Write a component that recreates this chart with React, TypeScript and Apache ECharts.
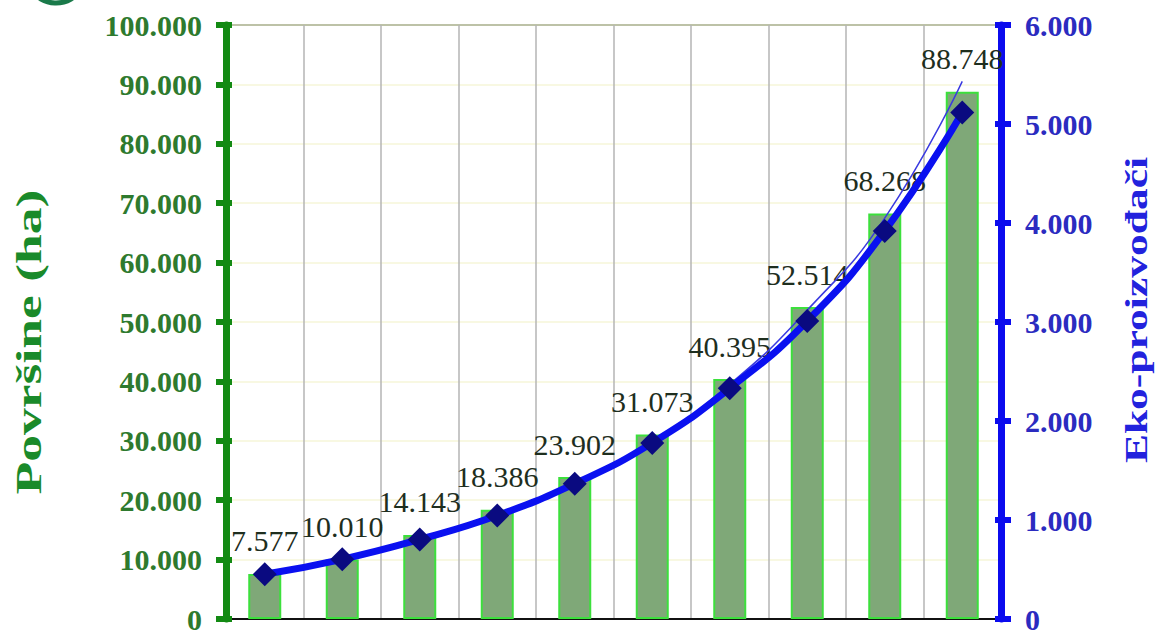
import React, { useEffect, useRef } from "react";
import * as echarts from "echarts";

const categories = ["2010", "2011", "2012", "2013", "2014", "2015", "2016", "2017", "2018", "2019"];
const areaHa = [7577, 10010, 14143, 18386, 23902, 31073, 40395, 52514, 68268, 88748];
const producers = [452, 603, 804, 1045, 1367, 1779, 2332, 3010, 3920, 5116];
const producersTrend = [440, 590, 790, 1040, 1360, 1790, 2370, 3120, 4050, 5430];

const leftTitle = "Površine (ha)";
const rightTitle = "Eko-proizvođači";

const SERIF = "'Liberation Serif', 'Times New Roman', serif";

const fmt = (v: number) => String(Math.round(v)).replace(/\B(?=(\d{3})+(?!\d))/g, ".");

export default function App() {
  const ref = useRef<HTMLDivElement>(null);
  useEffect(() => {
    if (!ref.current) return;
    const chart = echarts.init(ref.current, undefined, { renderer: "svg" });
    chart.setOption({
      animation: false,
      backgroundColor: "#ffffff",
      grid: {
        left: 226,
        right: 157,
        top: 25,
        bottom: 12,
        show: true,
        borderColor: "#142814",
        borderWidth: 2,
        backgroundColor: "transparent",
      },
      graphic: [
        {
          type: "circle",
          shape: { cx: 56, cy: -27, r: 30 },
          style: { fill: "none", stroke: "#1a7a4a", lineWidth: 5 },
        },
        {
          type: "text",
          x: 29,
          y: 342,
          rotation: Math.PI / 2,
          scaleX: 1.53,
          style: {
            text: leftTitle,
            fill: "#1a8a2a",
            font: `bold 35px ${SERIF}`,
            textAlign: "center",
            textVerticalAlign: "middle",
          },
        },
        {
          type: "text",
          x: 1136,
          y: 310,
          rotation: Math.PI / 2,
          scaleX: 1.36,
          style: {
            text: rightTitle,
            fill: "#2222dd",
            font: `bold 32px ${SERIF}`,
            textAlign: "center",
            textVerticalAlign: "middle",
          },
        },
      ],
      xAxis: {
        type: "category",
        data: categories,
        boundaryGap: true,
        axisLine: { show: true, lineStyle: { color: "#111", width: 2 } },
        axisTick: { show: false },
        axisLabel: { show: false },
        splitLine: { show: true, lineStyle: { color: "#b4b4b4", width: 1.5 } },
      },
      yAxis: [
        {
          type: "value",
          position: "left",
          min: 0,
          max: 100000,
          interval: 10000,
          axisLine: { show: true, lineStyle: { color: "#138a13", width: 7 } },
          axisTick: { show: true, inside: false, length: 10, lineStyle: { color: "#138a13", width: 6 } },
          axisLabel: {
            margin: 24,
            color: "#2e7a2e",
            fontSize: 30,
            fontWeight: "bold",
            fontFamily: SERIF,
            formatter: (v: number) => fmt(v),
          },
          splitLine: { show: true, lineStyle: { color: "#f6f6d8", width: 1.5 } },
        },
        {
          type: "value",
          position: "right",
          min: 0,
          max: 6000,
          interval: 1000,
          axisLine: { show: true, lineStyle: { color: "#0b0bee", width: 7 } },
          axisTick: { show: true, inside: false, length: 10, lineStyle: { color: "#0b0bee", width: 6 } },
          axisLabel: {
            margin: 24,
            color: "#2b2bc0",
            fontSize: 30,
            fontWeight: "bold",
            fontFamily: SERIF,
            formatter: (v: number) => fmt(v),
          },
          splitLine: { show: false },
        },
        {
          type: "value",
          position: "left",
          min: 0,
          max: 100000,
          interval: 10000,
          axisLine: { show: false },
          axisTick: { show: true, inside: true, length: 6, lineStyle: { color: "#138a13", width: 6 } },
          axisLabel: { show: false },
          splitLine: { show: false },
        },
        {
          type: "value",
          position: "right",
          min: 0,
          max: 6000,
          interval: 1000,
          axisLine: { show: false },
          axisTick: { show: true, inside: true, length: 6, lineStyle: { color: "#0b0bee", width: 6 } },
          axisLabel: { show: false },
          splitLine: { show: false },
        },
      ],
      series: [
        {
          type: "bar",
          yAxisIndex: 0,
          data: areaHa,
          barWidth: 33,
          itemStyle: { color: "#7fa878", borderColor: "#3ce03c", borderWidth: 2 },
          label: {
            show: true,
            position: "top",
            distance: 18,
            color: "#1e2e1e",
            fontSize: 30,
            fontFamily: SERIF,
            formatter: (p: any) => fmt(p.value),
          },
          z: 2,
        },
        {
          type: "line",
          yAxisIndex: 1,
          data: producersTrend,
          smooth: true,
          symbol: "none",
          lineStyle: { color: "#3a3ae0", width: 1.5 },
          z: 3,
        },
        {
          type: "line",
          yAxisIndex: 1,
          data: producers,
          smooth: true,
          symbol: "diamond",
          symbolSize: 24,
          itemStyle: { color: "#0a0a80" },
          lineStyle: { color: "#0a10f0", width: 7 },
          z: 4,
        },
      ],
    });
    return () => chart.dispose();
  }, []);
  return (
    <div
      ref={ref}
      style={{ position: "fixed", left: 0, top: 0, width: 1158, height: 634 }}
    />
  );
}
